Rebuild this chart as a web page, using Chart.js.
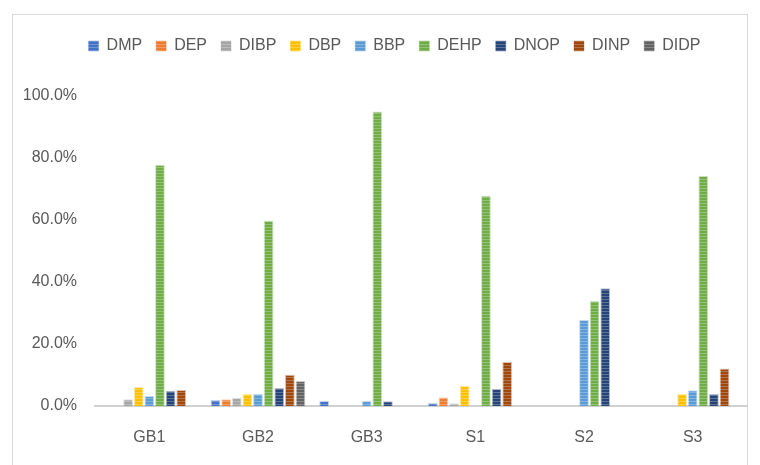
<!DOCTYPE html>
<html>
<head>
<meta charset="utf-8">
<script src="https://cdn.jsdelivr.net/npm/chart.js@4"></script>
<style>
  body { margin: 0; background: #fff; }
  #wrap { position: relative; width: 760px; height: 465px; }
  #frame { position: absolute; left: 12px; top: 14px; width: 736px; height: 470px; border: 1px solid #d9d9d9; box-sizing: border-box; }
  canvas { position: absolute; left: 0; top: 0; }
</style>
</head>
<body>
<div id="wrap">
  <div id="frame"></div>
  <canvas id="chart" width="760" height="465"></canvas>
</div>
<script>
// samples on the x axis
const samples = ['GB1', 'GB2', 'GB3', 'S1', 'S2', 'S3'];

// share of each phthalate per sample, in %
const DMP  = [0, 1.9, 1.6, 1.0, 0, 0];
const DEP  = [0, 2.2, 0, 2.8, 0, 0];
const DIBP = [2.2, 2.7, 0, 0.9, 0, 0];
const DBP  = [6.1, 3.9, 0, 6.5, 0, 3.9];
const BBP  = [3.2, 3.9, 1.6, 0, 27.8, 5.1];
const DEHP = [77.8, 59.8, 95.0, 67.8, 33.9, 74.3];
const DNOP = [4.9, 5.8, 1.5, 5.6, 38.0, 3.9];
const DINP = [5.2, 10.1, 0, 14.2, 0, 12.1];
const DIDP = [0, 8.1, 0, 0, 0, 0];

const yTicks = [0, 20, 40, 60, 80, 100];

// striped fill like the excel pattern fill
function stripes(color) {
  const c = document.createElement('canvas');
  c.width = 4; c.height = 3;
  const g = c.getContext('2d');
  g.fillStyle = color;
  g.fillRect(0, 0, 4, 3);
  g.fillStyle = 'rgba(255,255,255,0.25)';
  g.fillRect(0, 2, 4, 1);
  return g.createPattern(c, 'repeat');
}

const series = [
  ['DMP', DMP, '#4472C4'],
  ['DEP', DEP, '#ED7D31'],
  ['DIBP', DIBP, '#A5A5A5'],
  ['DBP', DBP, '#FFC000'],
  ['BBP', BBP, '#5B9BD5'],
  ['DEHP', DEHP, '#70AD47'],
  ['DNOP', DNOP, '#264478'],
  ['DINP', DINP, '#9E480E'],
  ['DIDP', DIDP, '#636363']
];

const datasets = series.map(([name, vals, col]) => ({
  label: name,
  data: vals.map(v => v === 0 ? null : v),
  backgroundColor: stripes(col),
  borderColor: col + '55',
  borderWidth: 1,
  barPercentage: 0.92,
  categoryPercentage: 0.88
}));

// extra room under the legend, and nudge it right a bit
const legendSpace = {
  id: 'legendSpace',
  beforeInit(chart) {
    const fit = chart.legend.fit;
    chart.legend.fit = function () {
      fit.bind(this)();
      this.height += 32;
    };
  },
  afterLayout(chart) {
    chart.legend.left += 14;
    chart.legend.right += 14;
  }
};

Chart.defaults.font.family = '"Liberation Sans", Arial, sans-serif';
Chart.defaults.color = '#595959';

new Chart(document.getElementById('chart'), {
  type: 'bar',
  data: { labels: samples, datasets: datasets },
  plugins: [legendSpace],
  options: {
    responsive: false,
    animation: false,
    layout: { padding: { left: 14, right: 13, top: 24, bottom: 10 } },
    plugins: {
      tooltip: { enabled: false },
      legend: {
        position: 'top',
        labels: { boxWidth: 10, boxHeight: 10, padding: 14, font: { size: 16 } }
      }
    },
    scales: {
      x: {
        grid: { display: false },
        border: { color: '#d0d0d0', width: 2 },
        ticks: { font: { size: 16 }, padding: 14 },
        afterFit: s => { s.height = 49; }
      },
      y: {
        min: 0,
        max: 100,
        afterBuildTicks: s => { s.ticks = yTicks.map(v => ({ value: v })); },
        grid: { display: false },
        border: { display: false },
        ticks: { font: { size: 16 }, padding: 10, callback: v => v.toFixed(1) + '%' },
        afterFit: s => { s.width = 81; }
      }
    }
  }
});
</script>
</body>
</html>
